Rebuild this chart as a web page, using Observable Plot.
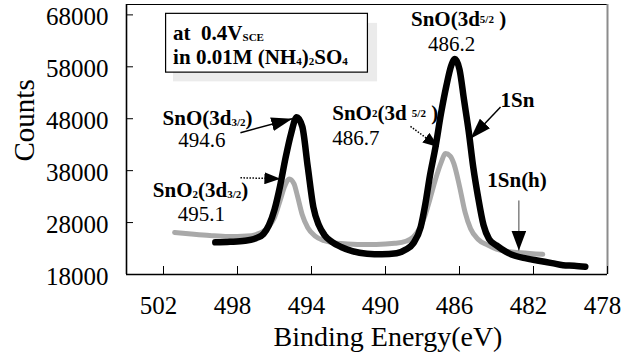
<!DOCTYPE html>
<html>
<head>
<meta charset="utf-8">
<script src="https://cdn.jsdelivr.net/npm/d3@7"></script>
<script src="https://cdn.jsdelivr.net/npm/@observablehq/plot@0.6"></script>
<style>
  html, body { margin: 0; padding: 0; background: #fff; }
  #chart svg { display: block; }
  #chart svg, #chart svg text, #chart svg tspan { font-family: "Liberation Serif", "DejaVu Serif", serif !important; }
</style>
</head>
<body>
<div id="chart"></div>
<script>
// ---------- data ----------
const energy1Sn = [499.2, 498.4, 497.6, 497.0, 496.6, 496.3, 496.0, 495.7, 495.4, 495.1, 494.8, 494.5, 494.2, 493.9, 493.6, 493.3, 492.9, 492.4, 491.8, 491.0, 490.2, 489.4, 488.9, 488.5, 488.1, 487.85, 487.6, 487.3, 487.0, 486.7, 486.45, 486.25, 486.0, 485.75, 485.5, 485.25, 485.0, 484.7, 484.4, 484.0, 483.5, 483.0, 482.4, 481.8, 481.0, 480.4, 479.8, 479.2];
const counts1Sn = [24200, 24300, 24500, 25000, 25800, 27500, 30500, 35000, 40500, 45200, 48300, 46500, 38700, 31000, 27500, 25600, 24300, 23300, 22500, 22000, 21900, 22100, 22800, 24000, 27100, 31500, 37000, 42500, 49000, 54500, 58200, 59500, 57500, 51500, 45500, 38500, 33000, 27500, 24800, 23600, 22400, 21600, 21100, 20700, 20200, 19800, 19700, 19500];

const energy1SnH = [501.4, 500.5, 499.5, 498.5, 497.5, 497.0, 496.6, 496.3, 496.0, 495.7, 495.45, 495.2, 494.95, 494.75, 494.5, 494.2, 493.8, 493.3, 492.6, 491.5, 490.5, 489.5, 488.9, 488.5, 488.2, 487.9, 487.6, 487.3, 487.0, 486.75, 486.5, 486.3, 486.0, 485.7, 485.4, 485.0, 484.5, 484.0, 483.5, 482.7, 481.5];
const counts1SnH = [26100, 25800, 25500, 25300, 25400, 25700, 26300, 27300, 29000, 32200, 35000, 36400, 35500, 33000, 29500, 27000, 25400, 24500, 24000, 23800, 23800, 24000, 24400, 25200, 26600, 29000, 32500, 36300, 39500, 41300, 40800, 39300, 35000, 30000, 26800, 24800, 23700, 22900, 22500, 22200, 21900];

const xTicks = [502, 498, 494, 490, 486, 482, 478];
const yTicks = [18000, 28000, 38000, 48000, 58000, 68000];
const xTitle = "Binding Energy(eV)";
const yTitle = "Counts";

// annotation texts (markup: _{...} small low, ^{...} small mid-height), anchored in data units
const boldLabels = [
  {text: "at\u00a0 0.4V_{SCE}", e: 501.48, c: 63200, anchor: "start"},
  {text: "in 0.01M (NH_{4})_{2}SO_{4}", e: 501.48, c: 58450, anchor: "start"},
  {text: "SnO(3d_{3/2})", e: 499.62, c: 46710, anchor: "middle"},
  {text: "SnO_{2}(3d_{3/2})", e: 500.0, c: 32840, anchor: "middle"},
  {text: "SnO(3d^{5/2} )", e: 486.05, c: 65770, anchor: "middle"},
  {text: "SnO^{2}(3d ^{5/2} )", e: 492.88, c: 47800, anchor: "start"},
  {text: "1Sn", e: 483.78, c: 50220, anchor: "start"},
  {text: "1Sn(h)", e: 482.89, c: 34820, anchor: "middle"}
];
const valueLabels = [
  {text: "494.6", e: 499.92, c: 42470, anchor: "middle"},
  {text: "495.1", e: 499.95, c: 28400, anchor: "middle"},
  {text: "486.2", e: 486.43, c: 60950, anchor: "middle"},
  {text: "486.7", e: 492.88, c: 42900, anchor: "start"}
];
const solidArrows = [
  {e1: 497.84, c1: 45300, e2: 495.04, c2: 48000},
  {e1: 483.78, c1: 50240, e2: 485.41, c2: 44150}
];
const dottedArrows = [
  {e1: 497.84, c1: 36630, e2: 495.68, c2: 36440},
  {e1: 488.65, c1: 46520, e2: 487.12, c2: 42530}
];
const thinArrows = [
  {e1: 482.79, c1: 32260, e2: 482.79, c2: 22620}
];
const legendBox = [{e1: 501.86, e2: 490.95, c1: 56880, c2: 68200}];
const legendShadow = [{e1: 501.46, e2: 490.43, c1: 55100, c2: 66360}];

// ---------- build ----------
const series1Sn = energy1Sn.map((e, i) => ({e, c: counts1Sn[i]}));
const series1SnH = energy1SnH.map((e, i) => ({e, c: counts1SnH[i]}));

const W = 634, H = 358;
const M = {top: 4, right: 27, bottom: 84, left: 126};
const frameW = W - M.left - M.right, frameH = H - M.top - M.bottom;
const serif = "'Liberation Serif', 'DejaVu Serif', serif";
const SVGNS = "http://www.w3.org/2000/svg";

const linkOpts = {x1: "e1", y1: "c1", x2: "e2", y2: "c2", markerEnd: "arrow"};

const chart = Plot.plot({
  width: W,
  height: H,
  marginTop: M.top,
  marginRight: M.right,
  marginBottom: M.bottom,
  marginLeft: M.left,
  style: {background: "white", color: "black", overflow: "visible"},
  x: {domain: [504, 478], axis: null},
  y: {domain: [18000, 70000], axis: null},
  marks: [
    Plot.rect(legendShadow, {x1: "e1", x2: "e2", y1: "c1", y2: "c2", fill: "#ebebeb"}),
    Plot.rect(legendBox, {x1: "e1", x2: "e2", y1: "c1", y2: "c2", fill: "white", stroke: "black", strokeWidth: 1.2}),
    Plot.line(series1SnH, {x: "e", y: "c", stroke: "#a9a9a9", strokeWidth: 5, curve: "monotone-x"}),
    Plot.line(series1Sn, {x: "e", y: "c", stroke: "black", strokeWidth: 6.5, curve: "monotone-x"}),
    Plot.ruleY([70000], {stroke: "black", strokeWidth: 1}),
    Plot.ruleX([478], {stroke: "#8c8c8c", strokeWidth: 2}),
    Plot.ruleX([504], {stroke: "black", strokeWidth: 1.6}),
    Plot.ruleY([18000], {stroke: "black", strokeWidth: 1.6}),
    Plot.tickX(xTicks, {x: d => d, insetTop: frameH - 8, stroke: "black", strokeWidth: 1}),
    Plot.tickY(yTicks, {y: d => d, insetRight: frameW - 7, stroke: "black", strokeWidth: 1}),
    Plot.axisX(xTicks, {tickSize: 0, tickPadding: 22, dx: -5, fontSize: 25, fontFamily: serif, tickFormat: d => String(d), label: null, fill: "black"}),
    Plot.axisY(yTicks, {tickSize: 0, tickPadding: 18, dy: 2, fontSize: 25, fontFamily: serif, tickFormat: d => String(d), label: null, fill: "black"}),
    Plot.text([xTitle], {frameAnchor: "bottom", dx: 21, dy: 71, lineAnchor: "bottom", fontSize: 28, fontFamily: serif, fill: "black"}),
    Plot.text([yTitle], {frameAnchor: "left", rotate: -90, dx: -93, dy: 22, lineAnchor: "bottom", fontSize: 29, fontFamily: serif, fill: "black"}),
    Plot.link(solidArrows, {...linkOpts, stroke: "black", strokeWidth: 1.5}),
    Plot.link(dottedArrows, {...linkOpts, stroke: "black", strokeWidth: 1.5, strokeDasharray: "1.5,1.5"}),
    Plot.link(thinArrows, {...linkOpts, stroke: "#444", strokeWidth: 1}),
    Plot.text(boldLabels.filter(d => d.anchor === "start"), {x: "e", y: "c", text: "text", textAnchor: "start", lineAnchor: "bottom", fontSize: 21, fontFamily: serif, fontWeight: "bold", fill: "black"}),
    Plot.text(boldLabels.filter(d => d.anchor === "middle"), {x: "e", y: "c", text: "text", textAnchor: "middle", lineAnchor: "bottom", fontSize: 21, fontFamily: serif, fontWeight: "bold", fill: "black"}),
    Plot.text(valueLabels.filter(d => d.anchor === "start"), {x: "e", y: "c", text: "text", textAnchor: "start", lineAnchor: "bottom", fontSize: 21, fontFamily: serif, fill: "black"}),
    Plot.text(valueLabels.filter(d => d.anchor === "middle"), {x: "e", y: "c", text: "text", textAnchor: "middle", lineAnchor: "bottom", fontSize: 21, fontFamily: serif, fill: "black"})
  ]
});

// turn _{...} / ^{...} markup into small tspans
chart.querySelectorAll("text").forEach(t => {
  const src = t.textContent;
  if (!/[_^]\{/.test(src)) return;
  while (t.firstChild) t.removeChild(t.firstChild);
  const parts = src.split(/([_^]\{[^}]*\})/).filter(s => s.length);
  let shift = 0;
  for (const p of parts) {
    const ts = document.createElementNS(SVGNS, "tspan");
    if (/^[_^]\{/.test(p)) {
      const target = p[0] === "_" ? 1 : -3;
      ts.textContent = p.slice(2, -1);
      ts.setAttribute("font-size", "11");
      if (target !== shift) { ts.setAttribute("dy", String(target - shift)); shift = target; }
    } else {
      ts.textContent = p;
      if (shift !== 0) { ts.setAttribute("dy", String(-shift)); shift = 0; }
    }
    t.appendChild(ts);
  }
});

// solid filled arrowheads: restyle the markers of the three link marks (in mark order)
const headSizes = [[21, 14], [16, 12], [20, 15]];
const linkGroups = Array.from(chart.querySelectorAll('g[aria-label="link"]'));
linkGroups.forEach((g, k) => {
  const [len, wid] = headSizes[k] || [16, 12];
  const ids = new Set();
  g.querySelectorAll("[marker-end]").forEach(p => {
    const m = /url\(#([^)]+)\)/.exec(p.getAttribute("marker-end"));
    if (m) ids.add(m[1]);
  });
  ids.forEach(id => {
    const marker = chart.querySelector(`marker[id="${id}"]`);
    if (!marker) return;
    while (marker.firstChild) marker.removeChild(marker.firstChild);
    marker.setAttribute("viewBox", `${-len} ${-wid / 2} ${len} ${wid}`);
    marker.setAttribute("markerWidth", len);
    marker.setAttribute("markerHeight", wid);
    marker.setAttribute("markerUnits", "userSpaceOnUse");
    marker.setAttribute("refX", 0);
    marker.setAttribute("refY", 0);
    marker.setAttribute("orient", "auto");
    marker.setAttribute("fill", "black");
    marker.setAttribute("stroke", "none");
    marker.removeAttribute("stroke-width");
    const p = document.createElementNS(SVGNS, "path");
    p.setAttribute("d", `M0,0L${-len},${-wid / 2}L${-len},${wid / 2}Z`);
    p.setAttribute("fill", "black");
    p.setAttribute("stroke", "none");
    marker.appendChild(p);
  });
});

document.getElementById("chart").appendChild(chart);
</script>
</body>
</html>
